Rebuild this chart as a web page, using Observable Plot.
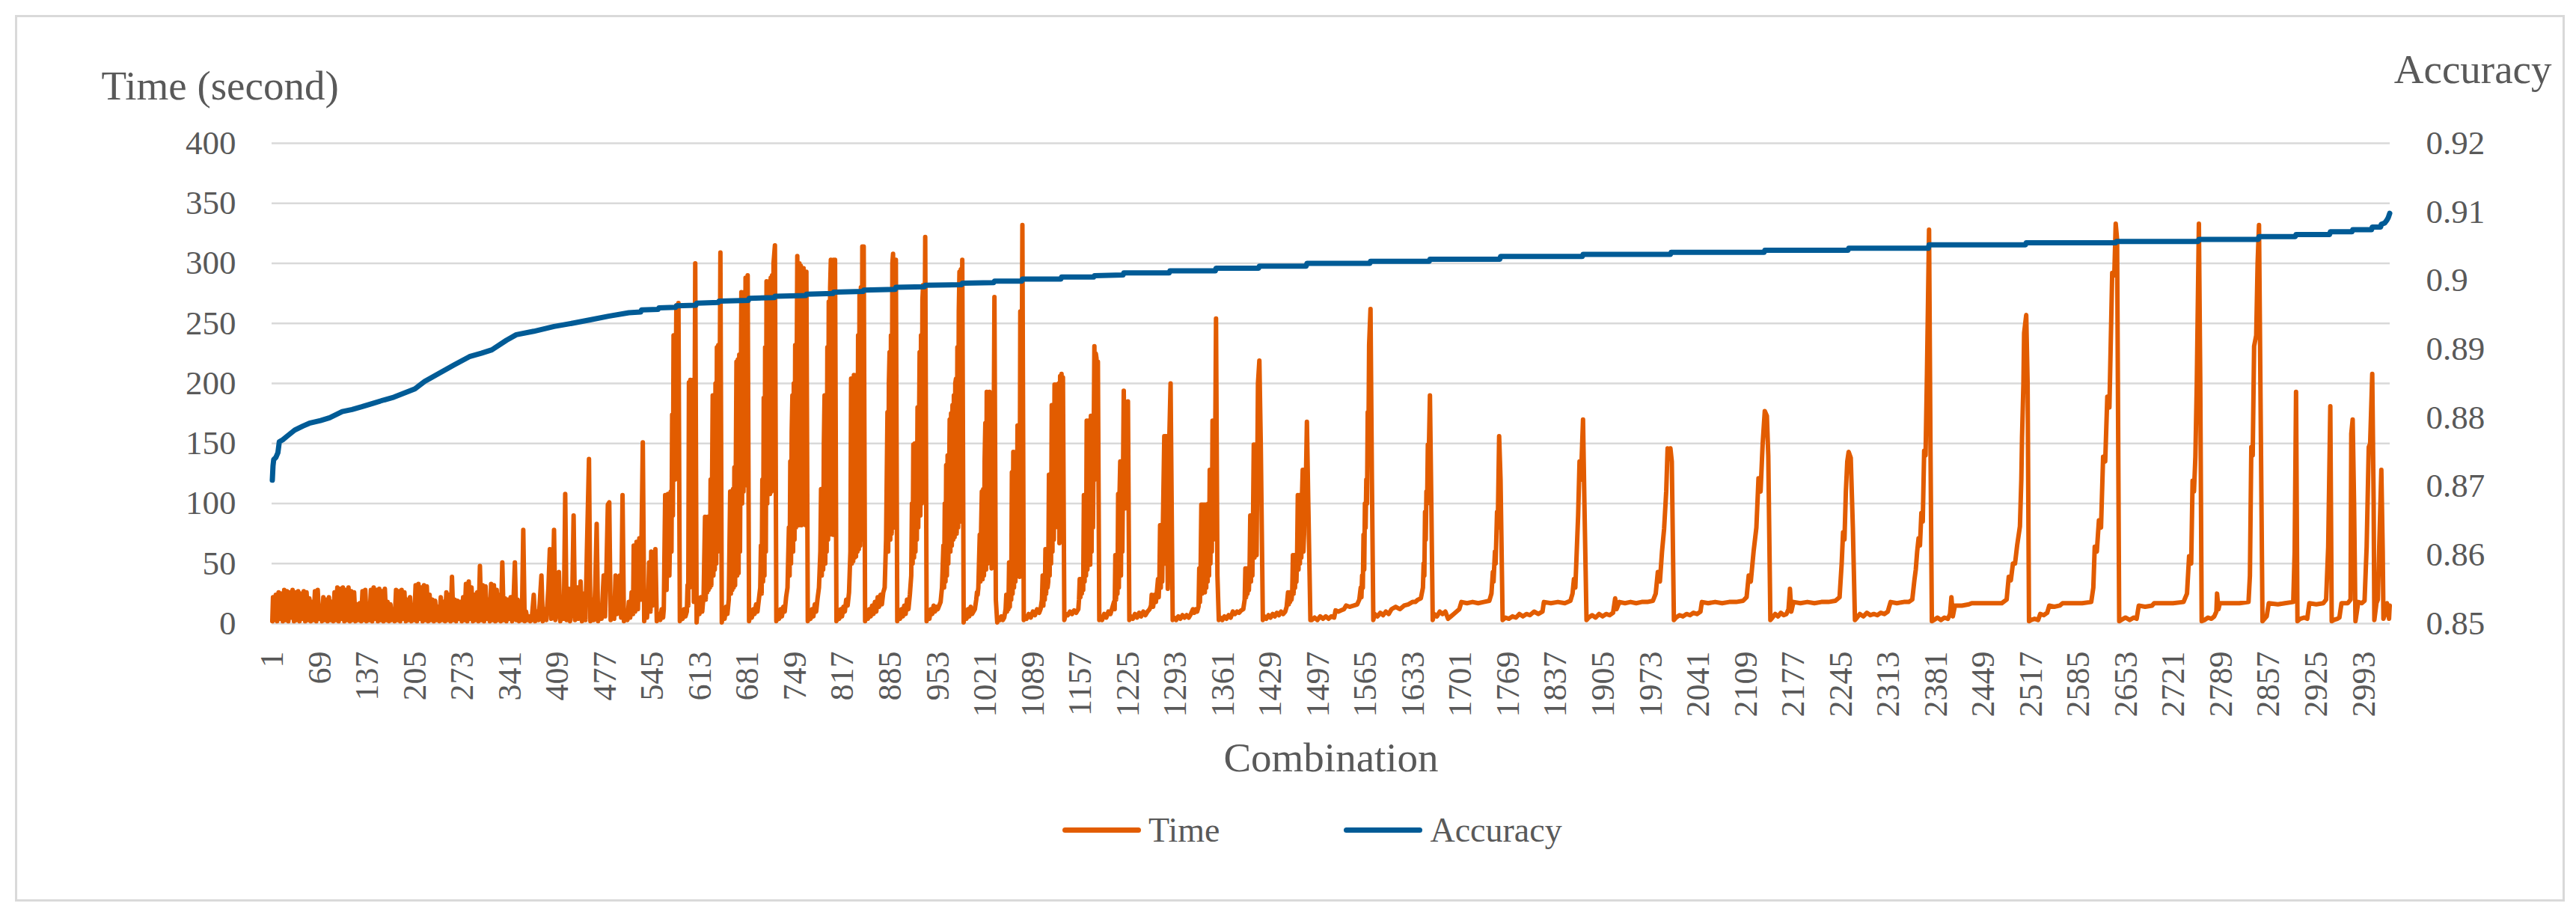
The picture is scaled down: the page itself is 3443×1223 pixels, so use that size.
<!DOCTYPE html>
<html>
<head>
<meta charset="utf-8">
<script src="https://cdn.jsdelivr.net/npm/d3@7"></script>
<script src="https://cdn.jsdelivr.net/npm/@observablehq/plot@0.6"></script>
<style>
html,body{margin:0;padding:0;background:#fff;}
body{width:3443px;height:1223px;position:relative;overflow:hidden;font-family:"Liberation Serif",serif;}
#frame{position:absolute;left:20px;top:20px;width:3408px;height:1185px;border:3px solid #d9d9d9;box-sizing:border-box;}
#chart{position:absolute;left:0;top:0;}
#legend{position:absolute;top:1079px;left:1420px;display:flex;align-items:center;font-size:46px;color:#595959;height:60px;}
#legend .item{display:flex;align-items:center;}
#legend .sw{width:105px;height:7px;border-radius:4px;margin-right:10px;}
</style>
</head>
<body>
<div id="frame"></div>
<div id="chart"></div>
<div id="legend"></div>
<script>
// ---- data ----
const seriesNames = ["Time", "Accuracy"];
const seriesColors = ["#E25C00", "#005B96"];
const timeTicks = [0, 50, 100, 150, 200, 250, 300, 350, 400];
const accTicks = [0.85, 0.86, 0.87, 0.88, 0.89, 0.90, 0.91, 0.92];
const xTicks = [1, 69, 137, 205, 273, 341, 409, 477, 545, 613, 681, 749, 817, 885, 953, 1021, 1089, 1157, 1225, 1293, 1361, 1429, 1497, 1565, 1633, 1701, 1769, 1837, 1905, 1973, 2041, 2109, 2177, 2245, 2313, 2381, 2449, 2517, 2585, 2653, 2721, 2789, 2857, 2925, 2993];
const combinationCount = 3030;

// Time (second) per combination: [combination, seconds]
const timePts = [
[1,2],[2,22],[4,3],[6,24],[8,2],[10,26],[12,4],[14,25],[16,2],[18,28],[20,3],[22,27],[24,2],[26,26],[28,5],[30,28],[32,2],[34,26],[36,3],[38,27],[40,2],[42,25],[44,4],[46,27],[48,2],[50,26],[52,3],[54,21],[56,2],[58,18],[60,3],[62,27],[64,2],[66,28],[68,4],[70,12],[72,2],[74,22],[76,3],[78,20],[80,2],[82,22],[84,3],[86,18],[88,2],[90,26],[92,3],[94,30],[96,2],[98,29],[100,4],[102,30],[104,2],[106,28],[108,3],[110,30],[112,2],[114,27],[116,3],[118,26],[120,2],[122,16],[124,3],[126,17],[128,2],[130,27],[132,3],[134,28],[136,2],[138,10],[140,3],[142,28],[144,2],[146,30],[148,4],[150,28],[152,2],[154,29],[156,3],[158,27],[160,2],[162,29],[164,3],[166,18],[168,2],[170,16],[172,3],[174,12],[176,2],[178,28],[180,3],[182,27],[184,2],[186,28],[188,4],[190,26],[192,2],[194,20],[196,3],[198,22],[200,2],[202,14],[204,3],[206,32],[208,2],[210,33],[212,4],[214,30],[216,2],[218,32],[220,3],[222,31],[224,2],[226,24],[228,3],[230,20],[232,2],[234,19],[236,3],[238,14],[240,2],[242,22],[244,3],[246,18],[248,2],[250,26],[252,3],[254,24],[256,2],[258,39],[260,3],[262,20],[264,2],[266,19],[268,4],[270,18],[272,2],[274,22],[276,3],[278,33],[280,2],[282,35],[284,4],[286,30],[288,2],[290,24],[292,3],[294,26],[296,2],[298,48],[300,3],[302,32],[304,2],[306,31],[308,4],[310,20],[312,2],[314,33],[316,3],[318,32],[320,2],[322,28],[324,3],[326,24],[328,2],[330,51],[332,3],[334,21],[336,2],[338,20],[340,4],[342,22],[344,2],[346,18],[348,51],[350,3],[352,20],[354,2],[356,14],[358,3],[360,78],[362,2],[364,10],[366,3],[368,6],[370,2],
[372,3],[375,24],[377,2],[380,10],[382,3],[386,40],[388,2],[391,12],[393,3],[396,30],[398,62],[400,4],[402,20],[404,78],[406,3],[408,10],[411,43],[413,2],[416,15],[418,4],[420,108],[422,3],[425,29],[427,2],[430,20],[432,90],[434,3],[437,30],[439,4],[442,35],[444,2],[447,25],[449,3],[451,60],[454,137],[456,2],[459,20],[461,3],[463,32],[465,83],[467,2],[470,15],[472,4],[475,40],[477,6],[479,45],[481,99],[483,101],[485,3],[488,20],[490,4],[492,40],[494,8],[496,35],[498,40],[500,5],[502,107],[504,2],[507,10],[509,3],[511,18],[513,5],[515,26],[517,8],[518,65],[520,10],[522,68],[524,12],[526,71],[528,20],[531,151],[533,2],[535,14],[537,5],[539,26],[540,51],[542,10],[543,60],[545,15],[547,20],[549,62],[551,2],[554,8],[556,3],[558,12],[560,5],
[561,12],[563,107],[565,28],[567,108],[569,40],[571,110],[572,60],[573,174],[574,90],[575,240],[577,120],[579,265],[580,150],[582,267],[584,2],
[586,8],[588,4],[590,12],[592,6],[594,10],[595,32],[596,15],[597,201],[598,30],[599,203],[600,40],[601,190],[602,35],[603,203],[604,18],[606,300],[608,1],
[610,18],[612,8],[614,22],[616,10],[618,24],[620,89],[621,20],[622,85],[623,26],[624,89],[625,28],[626,88],[627,30],[628,120],[629,32],[631,190],[632,40],[633,185],[634,45],[635,200],[636,50],[637,230],[638,60],[639,232],[640,80],[642,309],[644,1],
[646,10],[648,4],[650,14],[652,8],[654,20],[656,110],[657,25],[658,108],[659,28],[660,112],[661,30],[662,130],[663,32],[665,218],[666,40],[667,220],[668,42],[669,224],[670,60],[672,276],[673,100],[674,270],[675,110],[676,276],[677,115],[678,288],[679,120],[681,290],[683,2],
[685,10],[687,5],[689,12],[691,8],[693,16],[695,10],[697,20],[699,30],[700,65],[701,25],[702,120],[703,35],[704,188],[705,40],[706,230],[707,60],[708,285],[709,100],[710,280],[711,110],[712,285],[713,108],[714,288],[715,110],[716,290],[717,112],[718,300],[720,315],[722,2],
[724,8],[726,4],[728,12],[730,6],[732,14],[734,10],[736,22],[738,30],[740,80],[741,40],[742,135],[743,50],[744,160],[745,190],[746,60],[747,200],[748,70],[749,232],[750,80],[752,306],[754,82],[755,300],[756,85],[757,298],[758,82],[759,296],[760,84],[761,296],[762,85],[763,293],[764,82],[765,293],[767,2],
[769,8],[771,4],[773,12],[775,6],[777,16],[779,10],[781,21],[783,30],[785,60],[786,112],[787,40],[788,110],[789,45],[790,150],[791,190],[792,50],[793,188],[794,60],[795,230],[796,70],[797,268],[798,74],[799,280],[800,303],[801,76],[802,300],[803,74],[804,303],[805,78],[806,303],[808,2],
[810,8],[812,4],[814,12],[816,6],[818,14],[820,10],[822,20],[824,15],[826,26],[828,60],[829,204],[830,50],[831,200],[832,52],[833,207],[834,55],[835,205],[836,56],[837,207],[838,60],[839,240],[840,62],[841,274],[842,65],[843,280],[844,70],[845,314],[846,80],[847,314],[849,2],
[851,10],[853,4],[855,12],[857,6],[859,15],[861,8],[863,18],[865,10],[867,22],[869,14],[871,24],[873,16],[875,26],[877,30],[879,70],[881,176],[882,60],[883,200],[884,226],[885,70],[886,240],[887,75],[888,300],[889,308],[890,80],[891,303],[892,85],[893,303],[895,2],
[897,10],[899,4],[901,12],[903,6],[905,15],[907,8],[909,20],[911,12],[913,24],[915,40],[916,100],[917,50],[918,149],[919,55],[920,150],[921,60],[922,149],[923,70],[924,180],[925,80],[927,226],[928,90],[929,240],[930,100],[931,270],[932,282],[933,110],[935,322],[937,2],
[939,10],[941,4],[943,12],[945,8],[947,15],[949,10],[951,14],[953,12],[955,15],[957,18],[959,30],[961,65],[962,30],[963,100],[964,35],[965,132],[966,40],[967,140],[968,50],[970,170],[971,60],[972,175],[973,65],[974,182],[975,70],[976,190],[977,72],[978,200],[979,204],[980,75],[981,230],[982,80],[983,260],[984,293],[985,85],[986,295],[987,90],[988,303],[990,1],
[992,10],[994,4],[996,12],[998,6],[1000,14],[1002,8],[1004,10],[1006,12],[1008,20],[1009,26],[1010,24],[1011,30],[1013,74],[1014,35],[1015,80],[1016,110],[1017,37],[1018,112],[1019,40],[1020,137],[1021,167],[1022,45],[1023,193],[1024,50],[1025,190],[1026,55],[1027,193],[1028,60],[1029,190],[1030,46],[1032,48],[1034,272],[1036,20],[1038,1],
[1040,5],[1042,3],[1044,6],[1046,3],[1048,5],[1050,12],[1051,24],[1052,10],[1053,24],[1054,12],[1055,51],[1056,14],[1057,51],[1058,20],[1059,126],[1060,25],[1061,143],[1062,30],[1063,140],[1064,35],[1065,143],[1066,40],[1067,165],[1068,45],[1069,165],[1070,39],[1071,260],[1072,60],[1074,332],[1076,3],
[1078,6],[1080,4],[1083,8],[1086,5],[1089,10],[1092,7],[1095,12],[1098,9],[1100,12],[1102,20],[1103,40],[1104,15],[1105,40],[1106,20],[1107,62],[1108,25],[1109,62],[1110,30],[1111,35],[1112,124],[1113,40],[1114,124],[1115,50],[1116,182],[1117,60],[1118,182],[1119,70],[1120,199],[1121,80],[1122,199],[1123,85],[1124,199],[1125,90],[1126,200],[1127,67],[1128,206],[1129,100],[1130,208],[1131,150],[1132,205],[1134,3],
[1136,8],[1139,7],[1142,10],[1145,8],[1148,11],[1151,9],[1154,12],[1155,20],[1156,37],[1157,22],[1158,37],[1159,25],[1160,37],[1161,28],[1162,107],[1163,35],[1164,107],[1165,40],[1166,169],[1167,45],[1168,169],[1169,50],[1170,169],[1171,49],[1172,173],[1173,60],[1174,173],[1175,80],[1177,231],[1178,150],[1179,225],[1180,221],[1181,120],[1182,218],[1184,3],
[1186,5],[1188,3],[1191,8],[1194,5],[1197,10],[1200,8],[1203,14],[1205,18],[1206,12],[1207,57],[1208,20],[1209,57],[1210,25],[1211,108],[1212,30],[1213,108],[1214,135],[1215,40],[1216,135],[1217,60],[1219,194],[1220,150],[1221,96],[1222,180],[1223,120],[1225,185],[1227,3],
[1229,6],[1232,4],[1235,8],[1238,5],[1241,9],[1244,6],[1247,10],[1250,7],[1253,10],[1256,12],[1258,15],[1259,24],[1261,14],[1263,24],[1265,18],[1266,24],[1268,37],[1269,22],[1270,37],[1271,82],[1272,30],[1273,82],[1274,35],[1275,82],[1277,156],[1278,50],[1279,156],[1280,156],[1282,29],[1284,150],[1286,200],[1289,3],
[1291,5],[1294,3],[1297,6],[1300,4],[1303,7],[1306,5],[1309,7],[1312,5],[1315,8],[1318,12],[1320,9],[1322,12],[1324,10],[1326,14],[1327,46],[1328,18],[1329,46],[1330,99],[1331,25],[1332,99],[1333,30],[1334,99],[1335,26],[1336,99],[1337,30],[1338,99],[1339,35],[1340,100],[1341,40],[1342,128],[1343,50],[1344,128],[1345,60],[1346,169],[1347,70],[1348,169],[1349,80],[1351,254],[1353,40],[1355,3],
[1357,5],[1360,3],[1363,6],[1366,4],[1369,7],[1372,5],[1375,10],[1378,8],[1381,10],[1384,9],[1387,11],[1390,12],[1392,20],[1393,46],[1394,22],[1395,46],[1396,25],[1397,46],[1398,28],[1399,46],[1400,90],[1401,35],[1402,90],[1403,40],[1404,90],[1405,149],[1406,55],[1407,149],[1408,149],[1409,57],[1411,200],[1413,219],[1415,150],[1418,3],
[1420,6],[1423,4],[1426,7],[1429,5],[1432,8],[1435,6],[1438,9],[1441,7],[1444,10],[1447,8],[1450,10],[1452,14],[1454,26],[1455,16],[1456,26],[1457,18],[1458,26],[1459,20],[1460,26],[1461,57],[1462,25],[1463,57],[1464,30],[1465,57],[1466,35],[1467,57],[1468,107],[1469,45],[1470,107],[1471,50],[1472,107],[1473,55],[1474,107],[1475,128],[1476,60],[1477,75],[1478,128],[1479,100],[1481,168],[1483,100],[1486,3],
[1488,3],[1492,5],[1496,3],[1500,6],[1504,4],[1508,6],[1512,4],[1516,6],[1520,5],[1522,11],[1526,10],[1530,11],[1534,12],[1537,15],[1542,14],[1548,15],[1553,16],[1556,20],[1558,30],[1559,22],[1560,40],[1561,30],[1562,74],[1563,45],[1564,100],[1565,80],[1566,120],[1567,100],[1568,176],[1569,150],[1570,232],[1572,262],[1574,120],[1576,3],
[1578,8],[1582,6],[1586,9],[1590,7],[1594,10],[1598,8],[1602,12],[1608,14],[1614,12],[1620,15],[1626,16],[1632,18],[1636,18],[1640,20],[1644,21],[1647,30],[1648,50],[1649,40],[1650,93],[1651,70],[1652,110],[1653,100],[1654,149],[1655,130],[1657,190],[1659,100],[1661,3],
[1663,8],[1667,6],[1671,10],[1675,8],[1679,10],[1683,4],[1687,6],[1691,8],[1695,10],[1699,12],[1702,18],[1710,17],[1718,18],[1726,17],[1734,18],[1742,19],[1745,25],[1747,43],[1748,35],[1750,60],[1751,50],[1753,93],[1754,80],[1756,156],[1758,120],[1761,3],
[1765,5],[1770,4],[1775,6],[1780,5],[1785,8],[1790,6],[1795,8],[1800,7],[1806,10],[1812,8],[1818,10],[1820,18],[1830,17],[1840,18],[1850,17],[1858,19],[1861,25],[1863,37],[1865,30],[1867,60],[1869,90],[1871,135],[1873,120],[1876,170],[1878,100],[1881,3],
[1884,5],[1889,7],[1894,5],[1899,8],[1904,6],[1909,8],[1914,7],[1919,9],[1922,21],[1924,12],[1928,18],[1936,17],[1944,18],[1952,17],[1960,18],[1968,18],[1976,19],[1980,25],[1983,43],[1986,35],[1989,60],[1992,79],[1995,110],[1997,146],[1999,140],[2001,146],[2003,135],[2006,3],
[2009,5],[2014,7],[2019,6],[2024,8],[2029,7],[2034,9],[2039,8],[2044,10],[2046,18],[2055,17],[2065,18],[2075,17],[2085,18],[2095,18],[2105,19],[2110,22],[2113,40],[2116,35],[2120,60],[2124,80],[2127,121],[2130,110],[2133,150],[2136,177],[2139,173],[2141,140],[2144,3],
[2147,5],[2151,8],[2155,6],[2159,9],[2163,7],[2167,8],[2170,12],[2172,29],[2174,10],[2177,18],[2187,17],[2197,18],[2207,17],[2217,18],[2227,18],[2237,19],[2243,22],[2246,50],[2248,76],[2250,70],[2252,110],[2254,135],[2256,143],[2259,138],[2262,80],[2265,3],
[2268,5],[2272,8],[2277,6],[2282,9],[2287,7],[2292,8],[2297,7],[2302,9],[2307,8],[2312,10],[2316,18],[2325,17],[2335,18],[2342,18],[2347,20],[2350,36],[2352,45],[2354,60],[2356,71],[2358,65],[2360,92],[2362,85],[2364,144],[2366,140],[2368,208],[2371,328],[2373,150],[2375,2],
[2378,3],[2383,5],[2388,3],[2393,5],[2398,4],[2401,8],[2403,22],[2405,6],[2408,15],[2418,15],[2428,16],[2432,17],[2445,17],[2460,17],[2475,17],[2482,20],[2485,39],[2488,36],[2491,50],[2494,50],[2497,65],[2501,81],[2503,120],[2504,155],[2506,200],[2507,242],[2510,257],[2512,200],[2514,2],
[2517,3],[2522,4],[2527,3],[2530,8],[2535,7],[2540,9],[2543,15],[2550,14],[2558,15],[2562,17],[2575,17],[2590,17],[2603,18],[2606,30],[2608,64],[2611,60],[2614,86],[2617,80],[2620,139],[2623,135],[2626,189],[2629,180],[2633,292],[2636,290],[2638,333],[2640,320],[2643,2],
[2646,3],[2652,5],[2658,3],[2664,5],[2668,4],[2671,15],[2680,14],[2690,15],[2693,17],[2705,17],[2720,17],[2735,18],[2740,25],[2743,56],[2746,50],[2748,119],[2750,110],[2752,139],[2754,200],[2757,333],[2759,200],[2761,2],
[2765,3],[2770,5],[2775,4],[2779,6],[2782,10],[2783,25],[2785,12],[2787,17],[2800,17],[2815,17],[2828,18],[2830,40],[2832,147],[2834,140],[2836,231],[2839,240],[2841,300],[2843,332],[2845,200],[2848,2],
[2851,4],[2854,6],[2857,17],[2870,16],[2880,17],[2892,18],[2894,60],[2896,193],[2898,2],
[2902,4],[2908,5],[2912,4],[2915,17],[2925,16],[2935,17],[2939,20],[2942,64],[2945,181],[2947,2],
[2950,3],[2955,4],[2958,5],[2961,17],[2970,17],[2974,20],[2975,158],[2977,170],[2979,100],[2981,2],
[2983,10],[2985,18],[2990,17],[2994,19],[2997,64],[3000,147],[3002,150],[3005,208],[3007,100],[3008,3],[3011,17],[3013,20],[3015,64],[3018,128],[3020,60],[3021,4],[3024,10],[3026,17],[3028,8],[3029,4],[3030,15]
];

// Accuracy per combination: [combination, accuracy]
const accuracyPts = [
[1,0.8709],[2,0.8730],[3,0.8739],[6,0.8742],[9,0.8749],[11,0.8765],[16,0.8768],[22,0.8773],[33,0.8782],[45,0.8788],[54,0.8792],[70,0.8796],[83,0.8800],[101,0.8809],[115,0.8812],[129,0.8816],[145,0.8821],[161,0.8826],[175,0.8830],[190,0.8836],[205,0.8842],[219,0.8853],[240,0.8865],[261,0.8877],[283,0.8889],[300,0.8894],[315,0.8899],[336,0.8913],[350,0.8921],[375,0.8926],[404,0.8933],[432,0.8938],[457,0.8943],[482,0.8948],[511,0.8953],[528,0.8954],[529,0.8957],[553,0.8958],[554,0.8960],[578,0.8961],[579,0.8963],[607,0.8964],[608,0.8967],[639,0.8968],[640,0.8970],[682,0.8971],[683,0.8974],[719,0.8975],[720,0.8977],[764,0.8978],[765,0.8980],[803,0.8981],[804,0.8983],[846,0.8984],[847,0.8986],[892,0.8987],[893,0.8990],[934,0.8991],[935,0.8993],[987,0.8994],[988,0.8996],[1033,0.8997],[1034,0.8999],[1073,0.8999],[1074,0.9002],[1129,0.9002],[1130,0.9005],[1176,0.9005],[1177,0.9007],[1218,0.9008],[1219,0.9011],[1284,0.9011],[1285,0.9014],[1350,0.9014],[1351,0.9018],[1412,0.9018],[1413,0.9021],[1480,0.9021],[1481,0.9025],[1571,0.9025],[1572,0.9028],[1656,0.9028],[1657,0.9031],[1757,0.9031],[1758,0.9035],[1875,0.9035],[1876,0.9038],[2001,0.9038],[2002,0.9041],[2135,0.9041],[2136,0.9044],[2255,0.9044],[2256,0.9047],[2370,0.9047],[2371,0.9052],[2509,0.9052],[2510,0.9055],[2638,0.9055],[2639,0.9057],[2756,0.9057],[2757,0.9060],[2842,0.9060],[2843,0.9064],[2895,0.9064],[2896,0.9067],[2944,0.9067],[2945,0.9071],[2976,0.9071],[2977,0.9074],[3004,0.9074],[3005,0.9078],[3017,0.9078],[3018,0.9082],[3023,0.9084],[3026,0.9088],[3028,0.9092],[3030,0.9098]
];

// ---- chart ----
const TEXT = "#595959";
const accMin = accTicks[0], accMax = accTicks[accTicks.length - 1];
const tMax = timeTicks[timeTicks.length - 1];
const toTime = a => (a - accMin) / (accMax - accMin) * tMax;
const toAcc = t => accMin + t / tMax * (accMax - accMin);
const fmtAcc = a => String(+a.toFixed(2));

const timeData = timePts.map(([c, t]) => ({c, t}));
const accData = accuracyPts.map(([c, a]) => ({c, a}));

const chart = Plot.plot({
  width: 3443,
  height: 1060,
  marginLeft: 363,
  marginRight: 249,
  marginTop: 191,
  marginBottom: 227,
  style: {fontFamily: '"Liberation Serif", serif', background: "transparent", color: TEXT, overflow: "visible"},
  x: {domain: [0.5, combinationCount + 0.5]},
  y: {domain: [0, tMax]},
  marks: [
    Plot.gridY(timeTicks, {stroke: "#d9d9d9", strokeOpacity: 1, strokeWidth: 2.5}),
    Plot.axisY(timeTicks, {anchor: "left", tickSize: 0, tickPadding: 48, fontSize: 45, fill: TEXT, label: null, tickFormat: d => String(d)}),
    Plot.axisY(accTicks.map(toTime), {anchor: "right", tickSize: 0, tickPadding: 48, fontSize: 45, fill: TEXT, label: null, tickFormat: d => fmtAcc(toAcc(d))}),
    Plot.axisX(xTicks, {anchor: "bottom", tickSize: 0, tickPadding: 37, tickRotate: -90, fontSize: 44, fill: TEXT, label: null, tickFormat: d => String(d)}),
    Plot.line(timeData, {x: "c", y: "t", stroke: seriesColors[0], strokeWidth: 6, strokeLinejoin: "round", strokeLinecap: "round"}),
    Plot.line(accData, {x: "c", y: d => toTime(d.a), stroke: seriesColors[1], strokeWidth: 7, strokeLinejoin: "round", strokeLinecap: "round"}),
    Plot.text(["Time (second)"], {frameAnchor: "top-left", dx: -228, dy: -59, textAnchor: "start", lineAnchor: "bottom", fontSize: 55, fill: TEXT}),
    Plot.text(["Accuracy"], {frameAnchor: "top-right", dx: 216, dy: -81, textAnchor: "end", lineAnchor: "bottom", fontSize: 55, fill: TEXT}),
    Plot.text(["Combination"], {frameAnchor: "bottom", dy: 197, textAnchor: "middle", lineAnchor: "bottom", fontSize: 55, fill: TEXT})
  ]
});
document.getElementById("chart").appendChild(chart);

// legend
const legend = document.getElementById("legend");
seriesNames.forEach((name, i) => {
  const item = document.createElement("div");
  item.className = "item";
  if (i > 0) item.style.marginLeft = "166px";
  const sw = document.createElement("div");
  sw.className = "sw";
  sw.style.background = seriesColors[i];
  const label = document.createElement("span");
  label.textContent = name;
  item.appendChild(sw);
  item.appendChild(label);
  legend.appendChild(item);
});
</script>
</body>
</html>
